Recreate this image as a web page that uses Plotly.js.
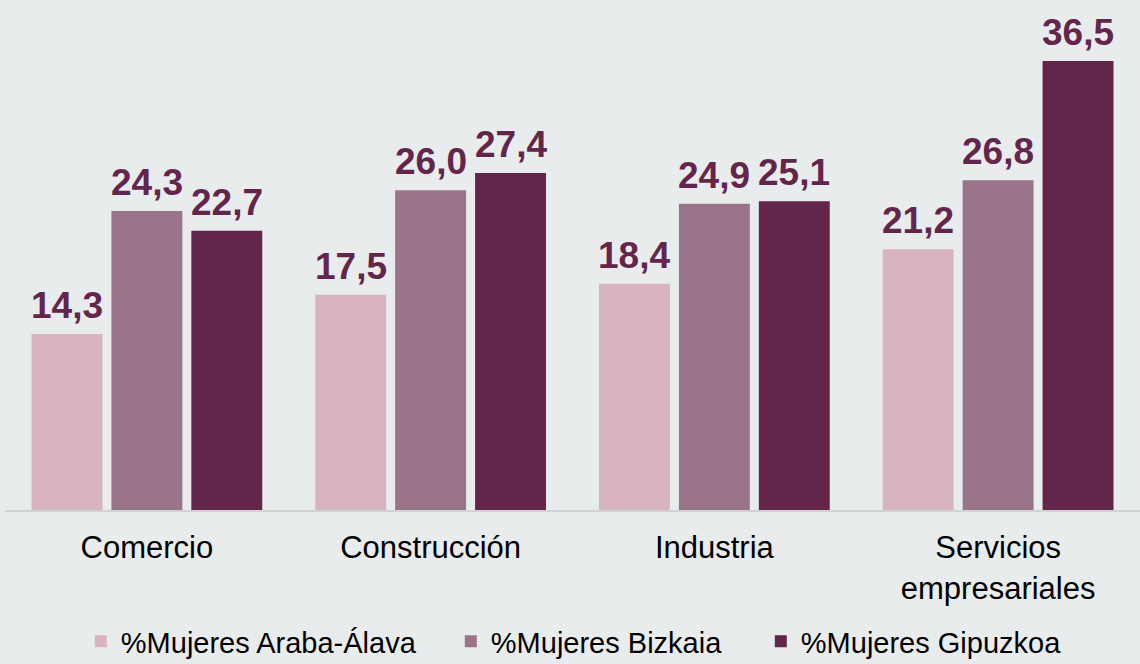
<!DOCTYPE html>
<html>
<head>
<meta charset="utf-8">
<script src="https://cdn.plot.ly/plotly-3.0.1.min.js"></script>
<style>html,body{margin:0;padding:0;background:#e8ecec;}#chart{width:1140px;height:664px;}</style>
</head>
<body>
<div id="chart"></div>
<script>
const categories = ["Comercio", "Construcción", "Industria", "Servicios<br>empresariales"];
const seriesNames = ["%Mujeres Araba-Álava", "%Mujeres Bizkaia", "%Mujeres Gipuzkoa"];
const alava = [14.3, 17.5, 18.4, 21.2];
const bizkaia = [24.3, 26.0, 24.9, 26.8];
const gipuzkoa = [22.7, 27.4, 25.1, 36.5];
const colors = ["#d8b4c3", "#9a7489", "#63254a"];
const legendWidths = [325, 265, null];

const allSeries = [alava, bizkaia, gipuzkoa];
const fmt = v => v.toFixed(1).replace('.', ',');

const W = 1140, H = 664;
const margin = {l: 5, r: 0, t: 20, b: 154, autoexpand: false};
const bargap = 0.155;
const plotW = W - margin.l - margin.r;
const slotPx = plotW / categories.length * (1 - bargap) / allSeries.length;

const traces = allSeries.map((vals, k) => {
  const t = {
    type: 'bar',
    name: seriesNames[k],
    x: categories,
    y: vals,
    marker: {color: colors[k]},
    hoverinfo: 'skip'
  };
  if (legendWidths[k]) t.legendwidth = legendWidths[k];
  return t;
});

const annotations = [];
allSeries.forEach((vals, k) => {
  vals.forEach((v, i) => {
    annotations.push({
      x: categories[i], y: v, xref: 'x', yref: 'y',
      text: fmt(v), showarrow: false,
      xanchor: 'center', yanchor: 'bottom',
      xshift: (k - 1) * slotPx, yshift: 6,
      font: {family: 'Liberation Sans, Arial, sans-serif', size: 37, color: '#63254a', weight: 'bold'}
    });
  });
});

const layout = {
  width: W, height: H,
  margin: margin,
  paper_bgcolor: '#e8ecec',
  plot_bgcolor: '#e8ecec',
  barmode: 'group',
  bargap: bargap,
  bargroupgap: 0.1125,
  font: {family: 'Liberation Sans, Arial, sans-serif', color: '#000000'},
  xaxis: {
    showline: true, linecolor: '#d0d3d3', linewidth: 2,
    ticks: '', showgrid: false, zeroline: false, automargin: false,
    ticklabelstandoff: 9,
    tickfont: {size: 31, color: '#000000'},
    fixedrange: true
  },
  yaxis: {
    range: [0, 39.83], visible: false, showgrid: false, zeroline: false, fixedrange: true, automargin: false
  },
  showlegend: true,
  legend: {
    orientation: 'h', x: 0.0668, xanchor: 'left', y: -0.216, yanchor: 'top',
    font: {size: 29, color: '#000000'},
    bgcolor: 'rgba(0,0,0,0)', traceorder: 'normal'
  },
  annotations: annotations
};

Plotly.newPlot('chart', traces, layout, {displayModeBar: false, staticPlot: true});
</script>
</body>
</html>
